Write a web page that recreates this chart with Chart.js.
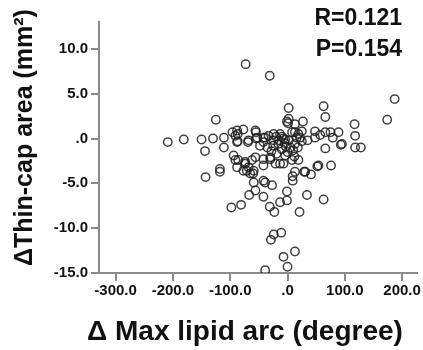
<!DOCTYPE html>
<html>
<head>
<meta charset="utf-8">
<script src="https://cdn.jsdelivr.net/npm/chart.js@4"></script>
<style>
  html, body { margin: 0; padding: 0; background: #fff; }
  #wrap { width: 423px; height: 350px; position: relative; }
</style>
</head>
<body>
<div id="wrap"><canvas id="c" width="423" height="350"></canvas></div>
<script>
// Δ Max lipid arc (degree)
const xValues = [
  -209,-181,-150,-130,-144,-125,-111,-111,-143,-118,-118,-96,-87,-77,-87,-69,-55,-55,-42,-33,
  -24,-13,-4,-94,-91,-88,-74,-68,-71,-60,-56,-42,-30,-21,-7,-4,10,19,29,41,
  -42,-39,-27,9,9,-1,-56,-67,-42,-81,-98,-31,-13,-1,-23,21,34,63,-59,52,
  76,66,93,117,118,118,128,75,89,66,48,57,22,13,-1,1,27,2,63,66,
  174,187,-73,-31,-11,-24,-29,13,-7,0,-39,48,79,-88,-68,-56,-53,-42,-39,-24,
  -7,-16,2,8,13,16,13,2,-86,-74,-62,-59,-42,-30,-19,-13,8,13,-65,-77,
  -88,-91,-25,-10,-5,5,-15,-35,-48,0,12,-20,-28,18,25,35,95,54,31,19,
  25,-3,-10
];
// Δ Thin-cap area (mm²)
const yValues = [
  -0.4,-0.1,-0.1,0.0,-1.4,2.1,0.1,-1.0,-4.3,-3.4,-3.7,0.7,0.5,1.0,-0.3,-0.4,0.7,0.0,0.1,0.3,
  -0.2,0.5,-0.1,-1.9,-2.4,-3.2,-2.6,-3.2,-3.6,-3.9,-2.1,-2.3,-2.1,-2.8,-2.8,-1.9,-1.3,-2.4,-3.7,-4.0,
  -4.7,-4.9,-5.2,-4.2,-4.7,-5.9,-5.8,-6.3,-6.5,-7.4,-7.7,-7.6,-7.1,-6.9,-8.2,-8.2,-6.3,-6.8,-4.9,-3.1,
  -3.0,-1.1,-0.7,1.6,0.3,-1.0,-1.0,0.7,0.7,0.7,0.8,0.4,0.1,0.7,1.9,1.7,1.9,3.4,3.6,2.4,
  2.1,4.4,8.3,7.0,-10.5,-10.7,-11.3,-12.6,-13.2,-14.3,-14.7,0.1,0.1,0.9,-0.2,0.9,0.1,-0.4,0.1,0.5,
  0.0,-0.6,-0.2,0.7,1.6,0.1,-0.6,2.2,-2.4,-2.8,-2.4,-3.6,-3.0,-2.3,-1.7,-2.8,-2.4,-3.7,-3.9,-3.6,
  -0.4,0.3,-0.8,-1.2,-0.5,-1.0,-0.2,-1.0,-0.8,-1.5,-2.0,0.2,-1.4,-1.0,-0.3,-0.2,-0.6,-3.0,-3.7,0.5,
  0.8,-0.9,0.2
];
const xTickValues = [-300, -200, -100, 0, 100, 200];
const xTickLabels = ["-300.0", "-200.0", "-100.0", ".0", "100.0", "200.0"];
const yTickValues = [-15, -10, -5, 0, 5, 10];
const yTickLabels = ["-15.0", "-10.0", "-5.0", ".0", "5.0", "10.0"];
const statLines = ["R=0.121", "P=0.154"];
const yTitle = 'ΔThin-cap area (mm²)';
const xTitle = 'Δ Max lipid arc (degree)';

const points = xValues.map((x, i) => ({ x: x, y: yValues[i] }));

const axisColor = '#8a8a8a';
const fontFamily = '"Liberation Sans", Arial, sans-serif';

const textPlugin = {
  id: 'texts',
  afterDraw(chart) {
    const ctx = chart.ctx;
    const area = chart.chartArea;
    ctx.save();
    ctx.font = 'bold 23px ' + fontFamily;
    ctx.fillStyle = '#111';
    ctx.textAlign = 'right';
    ctx.textBaseline = 'middle';
    statLines.forEach((t, i) => {
      ctx.fillText(t, area.right - 15, area.top - 3 + i * 31);
    });
    // x axis title
    ctx.textAlign = 'center';
    ctx.font = 'bold 28px ' + fontFamily;
    ctx.fillText(xTitle, 245, chart.height - 18);
    // y axis title (rotated)
    ctx.translate(25, (area.top + area.bottom) / 2 - 10);
    ctx.rotate(-Math.PI / 2);
    ctx.font = 'bold 25px ' + fontFamily;
    ctx.fillText(yTitle, 0, 0);
    ctx.restore();
  }
};

new Chart(document.getElementById('c'), {
  type: 'scatter',
  data: {
    datasets: [{
      data: points,
      pointStyle: 'circle',
      pointRadius: 4.2,
      pointHoverRadius: 4.2,
      pointBorderWidth: 1.5,
      borderColor: 'rgba(30,30,30,0.85)',
      backgroundColor: 'rgba(0,0,0,0)'
    }]
  },
  options: {
    responsive: false,
    animation: false,
    devicePixelRatio: 1,
    layout: { padding: { top: 22, right: 6, left: 0, bottom: 0 } },
    plugins: {
      legend: { display: false },
      tooltip: { enabled: false }
    },
    scales: {
      x: {
        type: 'linear',
        min: -329,
        max: 226,
        afterFit(scale) { scale.height = 77; },
        afterBuildTicks(scale) { scale.ticks = xTickValues.map(v => ({ value: v })); },
        grid: { display: true, drawOnChartArea: false, drawTicks: true, tickLength: 8, color: axisColor, lineWidth: 2 },
        border: { display: true, color: axisColor, width: 2 },
        ticks: {
          padding: 1,
          maxRotation: 0,
          autoSkip: false,
          color: '#111',
          font: { family: fontFamily, size: 15, weight: 'bold' },
          callback: (v) => { const i = xTickValues.indexOf(v); return i >= 0 ? xTickLabels[i] : ''; }
        },
        title: { display: false }
      },
      y: {
        type: 'linear',
        min: -15,
        max: 13,
        afterFit(scale) { scale.width = 99; },
        afterBuildTicks(scale) { scale.ticks = yTickValues.map(v => ({ value: v })); },
        grid: { display: true, drawOnChartArea: false, drawTicks: true, tickLength: 8, color: axisColor, lineWidth: 2 },
        border: { display: true, color: axisColor, width: 2 },
        ticks: {
          padding: 3,
          autoSkip: false,
          color: '#111',
          font: { family: fontFamily, size: 15, weight: 'bold' },
          callback: (v) => { const i = yTickValues.indexOf(v); return i >= 0 ? yTickLabels[i] : ''; }
        },
        title: { display: false }
      }
    }
  },
  plugins: [textPlugin]
});
</script>
</body>
</html>
